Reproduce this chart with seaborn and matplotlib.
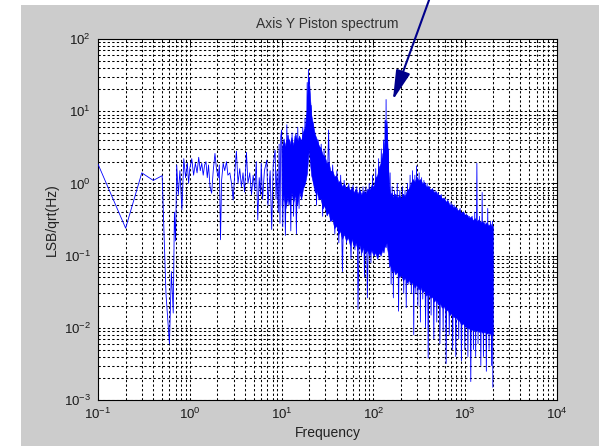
import numpy as np
import pandas as pd
import matplotlib
matplotlib.use('Agg')
import matplotlib.pyplot as plt
import seaborn as sns
from matplotlib.patches import Rectangle
from matplotlib.ticker import LogLocator, LogFormatterSciNotation, NullFormatter

# ---- low-frequency part of the spectrum (Hz, LSB/sqrt(Hz)) ----
low_f = [0.1, 0.2, 0.3, 0.4, 0.5, 0.55, 0.6, 0.63, 0.66, 0.68, 0.7, 0.72, 0.75, 0.78,
         0.82, 0.86, 0.9, 0.94, 0.97, 1.0, 1.05, 1.1, 1.15, 1.2, 1.25, 1.3, 1.35, 1.4,
         1.45, 1.5, 1.55, 1.6, 1.66, 1.73, 1.8, 1.88, 1.95, 2.04, 2.1, 2.16, 2.22, 2.31,
         2.4, 2.51, 2.6, 2.73, 2.85, 2.97, 3.1, 3.22, 3.35, 3.5, 3.65, 3.8, 3.95, 4.14,
         4.3, 4.5, 4.7, 4.9, 5.1, 5.3, 5.5, 5.7, 5.9, 6.0, 6.2, 6.5, 6.9, 7.1, 7.5, 7.8,
         8.1, 8.5, 8.7, 8.9, 9.2, 9.4, 9.6, 9.8]
low_v = [1.85, 0.24, 1.40, 1.10, 1.28, 0.03, 0.006, 0.06, 0.016, 0.4, 0.16, 1.8, 0.7, 1.5,
         0.43, 2.2, 1.2, 1.9, 1.0, 1.6, 2.2, 1.3, 1.9, 1.4, 2.3, 1.5, 1.9, 1.3,
         1.8, 2.0, 1.2, 1.8, 0.9, 0.73, 1.5, 2.6, 1.6, 1.2, 1.8, 0.166, 1.1, 1.9,
         1.5, 2.0, 1.3, 1.4, 1.0, 0.59, 1.5, 2.8, 1.0, 1.6, 0.9, 1.4, 0.76, 2.7,
         1.0, 1.4, 0.7, 1.3, 0.8, 2.0, 0.31, 1.2, 0.7, 1.9, 0.6, 1.5, 2.1, 0.5, 1.5, 0.23,
         1.8, 2.9, 0.6, 1.5, 0.4, 3.5, 0.28, 4.5]

# ---- dense part: alternating peaks / troughs ----
dense_f = [10.0, 10.3, 10.6, 11.0, 11.4, 11.8, 12.2, 12.6, 13.0, 13.5, 14.0, 14.5, 15.0, 15.5,
           16.0, 16.5, 17.0, 17.5, 18.0, 18.5, 19.0, 19.3, 19.6, 19.9, 20.2, 20.6, 21.0, 21.5,
           22.0, 22.5, 23.0, 24.0, 25.0, 26.0, 27.0, 28.0, 29.0, 30.0, 31.0, 32.5, 34.0, 36.0,
           38.0, 40.0, 42.0, 44.0, 46.0, 48.0, 51.0, 54.0, 57.0, 60.0, 63.0, 66.0, 68.0, 71.0,
           74.0, 77.0, 80.0, 83.0, 86.0, 90.0, 94.0, 98.0, 102.0, 106.0, 110.0, 114.0, 118.0,
           122.0, 126.0, 129.0, 132.0, 134.0, 136.0, 137.5, 139.0, 141.0, 143.0, 146.0, 149.0,
           152.0, 156.0, 160.0, 165.0, 170.0, 176.0, 182.0, 188.0, 194.0, 200.0, 207.0, 214.0,
           221.0, 228.0, 235.0, 243.0, 251.0, 259.0, 267.0, 275.0, 283.0, 290.0, 295.0, 305.0,
           315.0, 325.0, 335.0, 345.0, 355.0, 370.0, 385.0, 395.0, 410.0, 425.0, 440.0, 455.0,
           470.0, 490.0, 510.0, 530.0, 550.0, 575.0, 600.0, 620.0, 645.0, 670.0, 700.0, 730.0,
           760.0, 790.0, 820.0, 850.0, 880.0, 910.0, 950.0, 990.0, 1030.0, 1070.0, 1110.0,
           1150.0, 1190.0, 1230.0, 1270.0, 1300.0, 1340.0, 1380.0, 1430.0, 1480.0, 1530.0,
           1580.0, 1640.0, 1700.0, 1760.0, 1820.0, 1880.0, 1940.0, 1980.0, 2000.0]
dense_v = [5.5, 0.25, 3.5, 0.19, 6.5, 0.5, 4.0, 0.22, 5.0, 0.35, 4.5, 0.2, 6.0, 0.45,
           3.8, 0.6, 6.0, 0.9, 8.0, 1.5, 25.0, 4.0, 38.0, 5.0, 20.0, 2.5, 12.0, 1.5,
           7.0, 1.0, 5.0, 0.5, 4.0, 0.6, 3.5, 0.35, 3.0, 0.5, 0.4, 5.5, 0.3, 1.8,
           0.2, 1.5, 0.15, 1.3, 0.06, 1.1, 0.15, 1.0, 0.09, 0.95, 0.12, 0.9, 0.018, 0.85,
           0.1, 0.9, 0.05, 0.9, 0.026, 1.0, 0.08, 1.3, 0.1, 1.6, 0.12, 2.2, 0.15,
           3.0, 0.2, 4.0, 0.3, 7.5, 0.5, 14.5, 0.4, 6.0, 0.3, 3.0, 0.1,
           1.4, 0.04, 0.9, 0.026, 0.8, 0.06, 1.0, 0.017, 0.8, 0.05, 0.9, 0.03,
           0.8, 0.019, 1.0, 0.04, 1.3, 0.03, 1.5, 0.008, 1.3, 0.03, 1.75, 0.02,
           1.4, 0.012, 1.2, 0.025, 1.1, 0.01, 1.0, 0.0038, 0.9, 0.015, 0.85, 0.007,
           0.8, 0.012, 0.75, 0.006, 0.7, 0.009, 0.6, 0.0032, 0.6, 0.008, 0.55, 0.005,
           0.5, 0.004, 0.45, 0.007, 0.45, 0.0035, 0.4, 0.005, 0.38, 0.004, 0.35,
           0.0018, 0.35, 0.005, 0.4, 0.004, 1.9, 0.006, 0.35, 0.003, 0.75,
           0.004, 0.3, 0.0025, 0.45, 0.005, 0.3, 0.003, 0.3, 0.0015]

# ---- solid core of the dense band (ragged upper / lower edge) ----
band_f = [10, 10.5, 11, 11.6, 12.2, 12.8, 13.4, 14.1, 14.8, 15.5, 16.3, 17.1, 18, 18.9,
          19.4, 19.8, 20.3, 21, 22, 23, 24, 25.3, 26.6, 28, 29.4, 30.9, 32.4, 34, 35.7,
          37.5, 39.4, 41.4, 43.4, 45.6, 47.9, 50.3, 52.8, 55.4, 58.2, 61, 64, 67.3, 70.6,
          74, 78, 82, 86, 90, 95, 100, 105, 110, 115, 120, 125, 129, 133, 136, 139, 142,
          145, 148, 152, 158, 165, 173, 182, 191, 200, 210, 220, 231, 243, 255, 268, 281,
          295, 310, 325, 341, 358, 376, 395, 415, 436, 458, 481, 505, 530, 556, 584, 613,
          644, 676, 710, 745, 782, 821, 862, 905, 950, 998, 1048, 1100, 1155, 1213, 1274,
          1337, 1404, 1474, 1548, 1625, 1706, 1792, 1880, 1950, 2000]
band_hi = [3.0, 4.2, 3.3, 4.8, 3.5, 4.4, 3.4, 5.0, 3.8, 4.6, 3.9, 5.2, 6.0, 11,
           21, 30, 17, 9, 6.5, 4.8, 4.2, 3.4, 3.1, 2.5, 2.4, 1.9, 2.0, 1.5, 1.5,
           1.25, 1.3, 1.05, 1.1, 0.9, 1.0, 0.85, 0.95, 0.8, 0.9, 0.75, 0.85, 0.72, 0.82,
           0.7, 0.8, 0.72, 0.85, 0.8, 0.95, 0.9, 1.2, 1.3, 1.7, 1.9, 2.6, 2.9, 4.2, 6.5, 7.5, 3.8,
           1.6, 0.95, 0.7, 0.75, 0.65, 0.72, 0.63, 0.7, 0.62, 0.72, 0.66, 0.8, 0.85, 1.0, 1.15, 1.05,
           1.25, 1.1, 1.15, 1.0, 1.05, 0.9, 0.92, 0.82, 0.85, 0.75, 0.78, 0.68, 0.7, 0.62, 0.64, 0.56,
           0.58, 0.5, 0.52, 0.46, 0.48, 0.42, 0.44, 0.39, 0.41, 0.36, 0.37, 0.33, 0.35, 0.31, 0.33,
           0.3, 0.32, 0.29, 0.3, 0.27, 0.29, 0.26, 0.28, 0.25, 0.26]
band_lo = [0.5, 0.7, 0.45, 0.65, 0.5, 0.75, 0.55, 0.7, 0.5, 0.8, 0.6, 0.85, 1.0, 1.4,
           2.2, 3.0, 2.0, 1.3, 1.0, 0.75, 0.8, 0.6, 0.62, 0.45, 0.5, 0.36, 0.4, 0.3, 0.32,
           0.24, 0.26, 0.2, 0.22, 0.17, 0.2, 0.16, 0.18, 0.14, 0.17, 0.13, 0.15, 0.12, 0.14,
           0.11, 0.13, 0.11, 0.12, 0.1, 0.12, 0.1, 0.11, 0.09, 0.11, 0.1, 0.12, 0.11, 0.14, 0.13, 0.15, 0.12,
           0.1, 0.07, 0.075, 0.06, 0.065, 0.055, 0.06, 0.05, 0.055, 0.045, 0.05, 0.042, 0.046, 0.04, 0.043, 0.036,
           0.04, 0.034, 0.037, 0.031, 0.033, 0.028, 0.03, 0.026, 0.027, 0.023, 0.025, 0.021, 0.022, 0.019, 0.02, 0.017,
           0.018, 0.015, 0.016, 0.014, 0.0145, 0.013, 0.0125, 0.011, 0.0115, 0.0105, 0.01, 0.0098, 0.0093, 0.0095, 0.009,
           0.0092, 0.0088, 0.009, 0.0085, 0.0088, 0.0083, 0.0086, 0.0082, 0.0084, 0.008]

x_ticks = [0.1, 1, 10, 100, 1000, 10000]
y_ticks = [0.001, 0.01, 0.1, 1, 10, 100]

# arrow annotation (data coordinates): tip near the ~140 Hz peak
arrow_tip = (163, 14.3)
arrow_tail = (404, 347)

sns.set_style('white')
plt.rcParams['font.family'] = ['Liberation Sans', 'DejaVu Sans']
plt.rcParams['mathtext.fontset'] = 'custom'
plt.rcParams['mathtext.rm'] = 'Liberation Sans'
plt.rcParams['mathtext.it'] = 'Liberation Sans:italic'
plt.rcParams['mathtext.bf'] = 'Liberation Sans:bold'

W, H = 599, 446
fig = plt.figure(figsize=(W / 100, H / 100), dpi=100, facecolor='white')
fig.add_artist(Rectangle((21 / W, 0), 1, 1 - 5 / H, transform=fig.transFigure,
                         facecolor='#cccccc', edgecolor='none', zorder=-10))
ax = fig.add_axes([98 / W, 1 - 400 / H, (557 - 98) / W, (400 - 39) / H])
ax.set_facecolor('white')
ax.set_xscale('log')
ax.set_yscale('log')
ax.set_xlim(0.1, 10000)
ax.set_ylim(0.001, 100)

blue = '#0000ff'
ax.fill_between(band_f, band_lo, band_hi, color=blue, lw=0.4, edgecolor=blue, zorder=2)
df = pd.DataFrame({'f': low_f + dense_f, 'v': low_v + dense_v})
sns.lineplot(data=df, x='f', y='v', sort=False, estimator=None, color=blue,
             lw=0.6, ax=ax, zorder=3)

ax.set_xticks(x_ticks)
ax.set_yticks(y_ticks)
ax.xaxis.set_major_formatter(LogFormatterSciNotation())
ax.yaxis.set_major_formatter(LogFormatterSciNotation())
ax.xaxis.set_minor_locator(LogLocator(base=10, subs=np.arange(2, 10), numticks=20))
ax.yaxis.set_minor_locator(LogLocator(base=10, subs=np.arange(2, 10), numticks=20))
ax.xaxis.set_minor_formatter(NullFormatter())
ax.yaxis.set_minor_formatter(NullFormatter())
ax.set_xlim(0.1, 10000)
ax.set_ylim(0.001, 100)

ax.grid(True, which='both', color='black', linestyle=(0, (2.2, 2.2)), linewidth=0.75)
ax.set_axisbelow(True)
ax.tick_params(which='both', direction='in', top=True, right=True, colors='black',
               labelcolor='#1a1a1a', labelsize=9.5, pad=5)
ax.tick_params(which='major', length=4, width=0.7)
ax.tick_params(which='minor', length=2, width=0.6)
for s in ax.spines.values():
    s.set_color('black')
    s.set_linewidth(0.8)

ax.set_title('Axis Y Piston spectrum', fontsize=10, color='#333333', pad=8)
ax.set_xlabel('Frequency', fontsize=10, color='#222222', labelpad=3)
ax.set_ylabel('LSB/qrt(Hz)', fontsize=10, color='#222222', labelpad=4)

ax.annotate('', xy=arrow_tip, xytext=arrow_tail, xycoords='data', textcoords='data',
            annotation_clip=False,
            arrowprops=dict(arrowstyle='-|>,head_length=1.3,head_width=0.32',
                            mutation_scale=14, color='#00008b', lw=1.5,
                            shrinkA=0, shrinkB=0))

fig.savefig('out.png', dpi=100, facecolor=fig.get_facecolor())
